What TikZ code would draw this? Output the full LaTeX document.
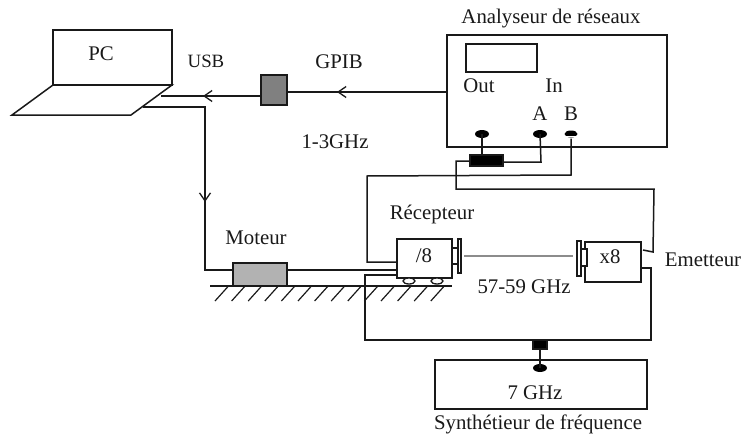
\documentclass[tikz,border=0pt]{standalone}
\usepackage{fontspec}
\setmainfont{Liberation Serif}
\usetikzlibrary{arrows.meta,calc,shapes.geometric}
\tikzset{
  wire/.style={draw=black!90,line width=1.5pt},
  box/.style={draw=black!90,line width=1.5pt,inner sep=0pt,outer sep=0pt,anchor=north west},
  lab/.style={inner sep=0pt,font=\fontsize{20.8}{23}\selectfont,text=black!90},
  barb/.style={wire,-{Straight Barb[length=8pt,width=11pt,line width=1.3pt]}},
  jack/.style={ellipse,fill=black,inner sep=0pt,minimum width=14pt,minimum height=8pt},
  wheel/.style={draw=black!90,line width=1.3pt,fill=white,ellipse,inner sep=0pt},
  hatch/.style={draw=black!90,line width=1.2pt},
}
\newcommand{\bx}[6][]{\node[box,#1,minimum width=#4pt,minimum height=#5pt] (#6) at (#2pt,-#3pt) {};}
\begin{document}
\begin{tikzpicture}[x=1pt,y=-1pt]
\useasboundingbox (0,0) rectangle (743,436);
% PC
\bx{53}{30}{119}{55}{screen}
\coordinate (k1) at (53,85); \coordinate (k2) at (172,85);
\coordinate (k3) at (131,115); \coordinate (k4) at (12,115);
\draw[wire,line join=miter] (k1) -- (k2) -- (k3) -- (k4) -- cycle;
\node[lab] (pc) at (101,54) {PC};
\node[lab,font=\fontsize{18.8}{21}\selectfont] (usb) at (206,61) {USB};
\node[lab] (gpib) at (339,62) {GPIB};
\node[lab] (freq) at (335,142) {1-3GHz};
% GPIB box
\bx[fill=black!50]{261}{75}{26}{30}{gpibbox}
% Analyser
\bx{447}{35}{220}{112}{ana}
\bx{466}{44}{71}{28}{screenb}
\node[lab] (anat) at (551,19) {Analyseur de réseaux};
\node[lab] (out) at (479,86) {Out};
\node[lab] (in) at (554,86) {In};
\node[lab] (a) at (540,114) {A};
\node[lab] (b) at (571,114) {B};
\node[jack] (jo) at (482,134) {};
\node[jack] (ja) at (540,134) {};
\node[jack,minimum width=13pt,minimum height=7pt] (jb) at (571,134) {};
\fill[white] (564,135.5) rectangle (578,136.5);
% coupler
\bx[fill=black]{470}{155}{33}{11}{coup}
% Wires from PC
\coordinate (usbend) at (161,96);
\coordinate (gpibin) at (447,92);
\coordinate (gpibarrow) at (337,92);
\coordinate (usbarrow) at (203,96);
\draw[wire] (gpibbox.west |- usbend) -- (usbend);
\draw[barb] (gpibbox.west |- usbend) -- (usbarrow);
\draw[wire] (gpibin) -- (gpibbox.east |- gpibin);
\draw[barb] (gpibin) -- (gpibarrow);
\coordinate (ctrl) at (143,107);
\coordinate (c1) at (205,107);
\coordinate (c2) at (205,202);
% motor
\bx[fill=black!30]{233}{263}{54}{23}{motor}
\node[lab] (mot) at (256,238) {Moteur};
\coordinate (c3) at (205,270);
\draw[wire] (ctrl) -- (c1) -- (c3) -- (motor.west |- c3);
\draw[barb] (c1) -- (c2);
% receiver
\bx{397}{239}{55}{39}{rx}
\node[lab] (div) at (424,256) {/8};
\node[lab] (rect) at (432,214) {Récepteur};
\bx{452}{248}{6}{16}{rxf}
\bx[fill=white]{458}{239}{3}{34}{rxp}
\node[wheel,minimum width=12pt,minimum height=6pt] (w1) at (409,281) {};
\node[wheel,minimum width=12pt,minimum height=6pt] (w2) at (437,281) {};
\draw[wire] (motor.east |- c3) -- (rx.west |- c3);
% ground
\coordinate (g1) at (210,286); \coordinate (g2) at (452,286);
\draw[wire] (g1) -- (g2);
\foreach \i in {0,...,13} {
  \draw[hatch] ($(215,301)+(\i*16.6,0)$) -- ++(13.5,-15);
}
% transmitter
\bx{585}{242}{56}{40}{tx}
\node[lab] (x8) at (610,257) {x8};
\bx[fill=white]{581}{249}{6}{17}{txf}
\bx[fill=white]{577}{241}{4}{35}{txp}
\node[lab] (em) at (703,260) {Emetteur};
\coordinate (beam1) at (464,256); \coordinate (beam2) at (573,256);
\draw[draw=black!45,line width=1.2pt] (beam1) -- (beam2);
\node[lab] (ghz) at (524,287) {57-59 GHz};
% Out to coupler
\draw[wire] (jo.center) -- (jo.center |- coup.north);
% A to coupler
\coordinate (ac) at (541,162);
\draw[wire] (ja.center) -- (ac) -- (coup.east |- ac);
% B to receiver
\coordinate (b1) at (571,175); \coordinate (b2) at (367,176); \coordinate (b3) at (367,262);
\draw[wire] (jb.south) ++(0,1) -- (b1) -- (b2) -- (b3) -- (rx.west |- b3);
% coupler to emetteur
\coordinate (t0) at (456,161); \coordinate (t1) at (456,189); \coordinate (t2) at (654,189);
\coordinate (t3) at (653,252); \coordinate (t4) at (643,250);
\draw[wire] (coup.west |- t0) -- (t0) -- (t1) -- (t2) -- (t3) -- (t4);
% synth
\bx{435}{360}{212}{49}{syn}
\node[lab] (sg) at (535,393) {7 GHz};
\node[lab] (synt) at (538,424) {Synthétieur de fréquence};
\bx[fill=black]{533}{340}{14}{9}{split}
\node[jack] (js) at (540,368) {};
\draw[wire] (split.south) -- (js.center);
% LO
\coordinate (l0) at (397,275); \coordinate (l1) at (365,275); \coordinate (l2) at (365,340);
\coordinate (l3) at (651,340); \coordinate (l4) at (651,268);
\draw[wire] (rx.west |- l0) -- (l1) -- (l2) -- (l3) -- (l4) -- (tx.east |- l4);
\end{tikzpicture}
\end{document}
